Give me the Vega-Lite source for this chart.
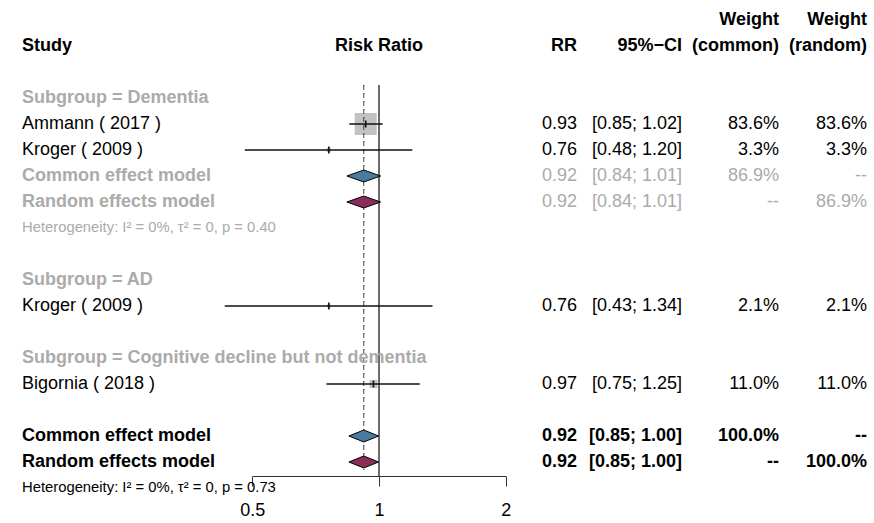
{
  "$schema": "https://vega.github.io/schema/vega-lite/v6.json",
  "width": 874,
  "height": 523,
  "padding": 0,
  "autosize": {"type": "none"},
  "background": "white",
  "config": {
    "view": {"stroke": null},
    "font": "Liberation Sans",
    "text": {"font": "Liberation Sans", "fontSize": 18, "baseline": "middle"}
  },
  "datasets": {
    "studies": [
      {"study": "Ammann ( 2017 )", "subgroup": "Dementia", "row": 4, "est": 0.93, "lo": 0.85, "hi": 1.02, "weight": 83.6},
      {"study": "Kroger ( 2009 )", "subgroup": "Dementia", "row": 5, "est": 0.76, "lo": 0.48, "hi": 1.20, "weight": 3.3},
      {"study": "Kroger ( 2009 )", "subgroup": "AD", "row": 11, "est": 0.76, "lo": 0.43, "hi": 1.34, "weight": 2.1},
      {"study": "Bigornia ( 2018 )", "subgroup": "Cognitive decline but not dementia", "row": 14, "est": 0.97, "lo": 0.75, "hi": 1.25, "weight": 11.0}
    ],
    "pooled": [
      {"level": "subgroup", "model": "common", "row": 6, "est": 0.92, "lo": 0.84, "hi": 1.01},
      {"level": "subgroup", "model": "random", "row": 7, "est": 0.92, "lo": 0.84, "hi": 1.01},
      {"level": "overall", "model": "common", "row": 16, "est": 0.92, "lo": 0.85, "hi": 1.00},
      {"level": "overall", "model": "random", "row": 17, "est": 0.92, "lo": 0.85, "hi": 1.00}
    ],
    "cells": [
      {"row": 1, "col": 0, "text": "Study", "kind": "header"},
      {"row": 3, "col": 0, "text": "Subgroup = Dementia", "kind": "subgroup"},
      {"row": 4, "col": 0, "text": "Ammann ( 2017 )", "kind": "study"},
      {"row": 5, "col": 0, "text": "Kroger ( 2009 )", "kind": "study"},
      {"row": 6, "col": 0, "text": "Common effect model", "kind": "submodel"},
      {"row": 7, "col": 0, "text": "Random effects model", "kind": "submodel"},
      {"row": 8, "col": 0, "text": "Heterogeneity: I² = 0%, τ² = 0, p = 0.40", "kind": "subhet"},
      {"row": 10, "col": 0, "text": "Subgroup = AD", "kind": "subgroup"},
      {"row": 11, "col": 0, "text": "Kroger ( 2009 )", "kind": "study"},
      {"row": 13, "col": 0, "text": "Subgroup = Cognitive decline but not dementia", "kind": "subgroup"},
      {"row": 14, "col": 0, "text": "Bigornia ( 2018 )", "kind": "study"},
      {"row": 16, "col": 0, "text": "Common effect model", "kind": "overall"},
      {"row": 17, "col": 0, "text": "Random effects model", "kind": "overall"},
      {"row": 18, "col": 0, "text": "Heterogeneity: I² = 0%, τ² = 0, p = 0.73", "kind": "overallhet"},
      {"row": 0, "col": 3, "text": "Weight", "kind": "header"},
      {"row": 0, "col": 4, "text": "Weight", "kind": "header"},
      {"row": 1, "col": 1, "text": "RR", "kind": "header"},
      {"row": 1, "col": 2, "text": "95%−CI", "kind": "header"},
      {"row": 1, "col": 3, "text": "(common)", "kind": "header"},
      {"row": 1, "col": 4, "text": "(random)", "kind": "header"},
      {"row": 4, "col": 1, "text": "0.93", "kind": "study"},
      {"row": 4, "col": 2, "text": "[0.85; 1.02]", "kind": "study"},
      {"row": 4, "col": 3, "text": "83.6%", "kind": "study"},
      {"row": 4, "col": 4, "text": "83.6%", "kind": "study"},
      {"row": 5, "col": 1, "text": "0.76", "kind": "study"},
      {"row": 5, "col": 2, "text": "[0.48; 1.20]", "kind": "study"},
      {"row": 5, "col": 3, "text": "3.3%", "kind": "study"},
      {"row": 5, "col": 4, "text": "3.3%", "kind": "study"},
      {"row": 6, "col": 1, "text": "0.92", "kind": "submodel"},
      {"row": 6, "col": 2, "text": "[0.84; 1.01]", "kind": "submodel"},
      {"row": 6, "col": 3, "text": "86.9%", "kind": "submodel"},
      {"row": 6, "col": 4, "text": "--", "kind": "submodel"},
      {"row": 7, "col": 1, "text": "0.92", "kind": "submodel"},
      {"row": 7, "col": 2, "text": "[0.84; 1.01]", "kind": "submodel"},
      {"row": 7, "col": 3, "text": "--", "kind": "submodel"},
      {"row": 7, "col": 4, "text": "86.9%", "kind": "submodel"},
      {"row": 11, "col": 1, "text": "0.76", "kind": "study"},
      {"row": 11, "col": 2, "text": "[0.43; 1.34]", "kind": "study"},
      {"row": 11, "col": 3, "text": "2.1%", "kind": "study"},
      {"row": 11, "col": 4, "text": "2.1%", "kind": "study"},
      {"row": 14, "col": 1, "text": "0.97", "kind": "study"},
      {"row": 14, "col": 2, "text": "[0.75; 1.25]", "kind": "study"},
      {"row": 14, "col": 3, "text": "11.0%", "kind": "study"},
      {"row": 14, "col": 4, "text": "11.0%", "kind": "study"},
      {"row": 16, "col": 1, "text": "0.92", "kind": "overall"},
      {"row": 16, "col": 2, "text": "[0.85; 1.00]", "kind": "overall"},
      {"row": 16, "col": 3, "text": "100.0%", "kind": "overall"},
      {"row": 16, "col": 4, "text": "--", "kind": "overall"},
      {"row": 17, "col": 1, "text": "0.92", "kind": "overall"},
      {"row": 17, "col": 2, "text": "[0.85; 1.00]", "kind": "overall"},
      {"row": 17, "col": 3, "text": "--", "kind": "overall"},
      {"row": 17, "col": 4, "text": "100.0%", "kind": "overall"}
    ]
  },
  "encoding": {
    "y": {"field": "row", "type": "quantitative", "scale": {"domain": [0, 18], "range": [20, 488], "nice": false, "zero": false}, "axis": null}
  },
  "resolve": {"scale": {"x": "independent", "color": "independent"}, "axis": {"x": "independent"}},
  "layer": [
    {
      "layer": [
        {
          "data": {"name": "studies"},
          "mark": {"type": "square", "color": "#c2c2c2", "opacity": 1},
          "encoding": {
            "x": {
              "field": "est", "type": "quantitative",
              "scale": {"type": "log", "domain": [0.5, 2], "range": [252.3, 505.7], "nice": false, "zero": false},
              "axis": {
                "orient": "bottom", "values": [0.5, 1, 2], "offset": -47,
                "tickSize": 10, "tickWidth": 1, "tickColor": "#333", "domainColor": "#333", "domainWidth": 1,
                "labelFontSize": 18, "labelFont": "Liberation Sans", "labelColor": "#000", "labelPadding": 15,
                "labelFlush": false, "labelOverlap": false, "grid": false, "title": null
              }
            },
            "size": {"field": "weight", "type": "quantitative", "scale": {"domain": [0, 100], "range": [0, 579]}, "legend": null}
          }
        },
        {
          "data": {"name": "pooled"},
          "transform": [{"filter": {"field": "level", "equal": "overall"}}, {"filter": {"field": "model", "equal": "common"}}],
          "mark": {"type": "rule", "color": "#3a3a3a", "strokeWidth": 1.5},
          "encoding": {"x": {"datum": 1}, "y": {"datum": 2.5}, "y2": {"datum": 17.54}}
        },
        {
          "data": {"name": "pooled"},
          "transform": [{"filter": {"field": "level", "equal": "overall"}}, {"filter": {"field": "model", "equal": "common"}}],
          "mark": {"type": "rule", "color": "#444", "strokeWidth": 1, "strokeDash": [4, 4]},
          "encoding": {"x": {"field": "est", "type": "quantitative"}, "y": {"datum": 2.5}, "y2": {"datum": 17.3}}
        },
        {
          "data": {"name": "pooled"},
          "transform": [{"filter": {"field": "level", "equal": "overall"}}, {"filter": {"field": "model", "equal": "random"}}],
          "mark": {"type": "rule", "color": "#444", "strokeWidth": 1, "strokeDash": [1, 3]},
          "encoding": {"x": {"field": "est", "type": "quantitative"}, "y": {"datum": 2.5}, "y2": {"datum": 17.3}}
        },
        {
          "data": {"name": "studies"},
          "mark": {"type": "rule", "color": "#111", "strokeWidth": 1.3},
          "encoding": {"x": {"field": "lo", "type": "quantitative"}, "x2": {"field": "hi"}}
        },
        {
          "data": {"name": "studies"},
          "mark": {"type": "point", "shape": "M0,-1L0,1", "size": 49, "filled": false, "stroke": "#111", "strokeWidth": 1.6, "opacity": 1},
          "encoding": {"x": {"field": "est", "type": "quantitative"}}
        },
        {
          "data": {"name": "pooled"},
          "transform": [{"filter": {"field": "level", "equal": "subgroup"}}],
          "mark": {"type": "point", "shape": "M-1,0L0,-0.356L1,0L0,0.356Z", "size": 1136, "filled": true, "stroke": "#000", "strokeWidth": 1, "opacity": 1},
          "encoding": {
            "x": {"field": "est", "type": "quantitative"},
            "fill": {"field": "model", "type": "nominal", "scale": {"domain": ["common", "random"], "range": ["#4a7c9e", "#8b2d5b"]}, "legend": null}
          }
        },
        {
          "data": {"name": "pooled"},
          "transform": [{"filter": {"field": "level", "equal": "overall"}}],
          "mark": {"type": "point", "shape": "M-1,0L0,-0.404L1,0L0,0.404Z", "size": 882, "filled": true, "stroke": "#000", "strokeWidth": 1, "opacity": 1},
          "encoding": {
            "x": {"field": "est", "type": "quantitative"},
            "fill": {"field": "model", "type": "nominal", "scale": {"domain": ["common", "random"], "range": ["#4a7c9e", "#8b2d5b"]}, "legend": null}
          }
        },
        {
          "data": {"values": [{"title": "Risk Ratio", "at": 1, "row": 1}]},
          "mark": {"type": "text", "fontWeight": "bold", "align": "center", "color": "#000"},
          "encoding": {"x": {"field": "at", "type": "quantitative"}, "text": {"field": "title"}}
        }
      ]
    },
    {
      "data": {"name": "cells"},
      "encoding": {
        "x": {"field": "col", "type": "quantitative", "scale": {"domain": [0, 1, 2, 3, 4], "range": [22, 577, 682, 779, 867], "nice": false, "zero": false}, "axis": null},
        "text": {"field": "text", "type": "nominal"},
        "color": {
          "field": "kind", "type": "nominal",
          "scale": {"domain": ["header", "study", "subgroup", "submodel", "subhet", "overall", "overallhet"], "range": ["#000000", "#000000", "#ababab", "#ababab", "#ababab", "#000000", "#000000"]},
          "legend": null
        }
      },
      "layer": [
        {
          "transform": [{"filter": {"field": "col", "equal": 0}}, {"filter": {"field": "kind", "oneOf": ["header", "subgroup", "submodel", "overall"]}}],
          "mark": {"type": "text", "align": "left", "fontWeight": "bold"}
        },
        {
          "transform": [{"filter": {"field": "col", "equal": 0}}, {"filter": {"field": "kind", "oneOf": ["study"]}}],
          "mark": {"type": "text", "align": "left"}
        },
        {
          "transform": [{"filter": {"field": "col", "equal": 0}}, {"filter": {"field": "kind", "oneOf": ["subhet", "overallhet"]}}],
          "mark": {"type": "text", "align": "left", "fontSize": 14.8}
        },
        {
          "transform": [{"filter": {"field": "col", "gt": 0}}, {"filter": {"field": "kind", "oneOf": ["header", "overall"]}}],
          "mark": {"type": "text", "align": "right", "fontWeight": "bold"}
        },
        {
          "transform": [{"filter": {"field": "col", "gt": 0}}, {"filter": {"field": "kind", "oneOf": ["study", "submodel"]}}],
          "mark": {"type": "text", "align": "right"}
        }
      ]
    }
  ]
}
